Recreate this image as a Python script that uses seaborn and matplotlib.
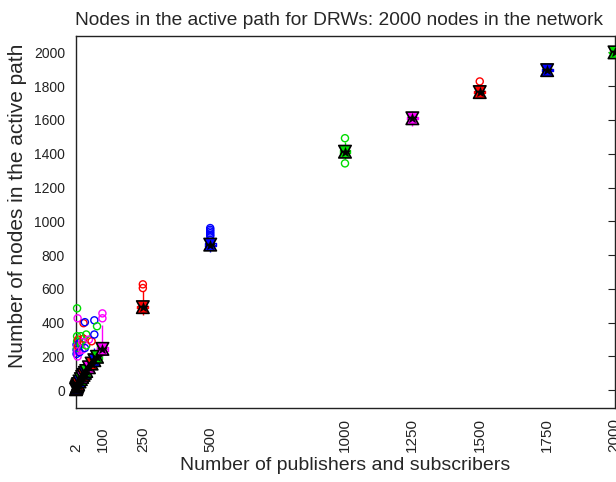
import matplotlib
matplotlib.use("Agg")
import matplotlib.pyplot as plt
from matplotlib.path import Path
import numpy as np
import pandas as pd
import seaborn as sns

# number of publishers + subscribers (box positions)
n_pubsub = [2, 4, 6, 8, 10, 15, 20, 25, 30, 35, 40, 50, 60, 70, 80, 100,
            250, 500, 1000, 1250, 1500, 1750, 2000]
# five-number summary per box
whisk_lo = [2, 6, 10, 14, 20, 30, 40, 50, 60, 70, 80, 100, 120, 140, 160, 200,
            444, 818, 1370, 1565, 1735, 1878, 1995]
q_low = [4, 11, 18, 25, 32, 46, 59, 72, 83, 95, 106, 127, 149, 169, 188, 234,
         484, 855, 1404, 1603, 1758, 1890, 1998]
median = [6, 14, 22, 30, 37, 52, 66, 79, 91, 103, 114, 136, 158, 178, 198, 245,
          492, 862, 1412, 1610, 1765, 1895, 2000]
q_high = [8, 17, 26, 35, 42, 58, 73, 86, 99, 111, 122, 145, 167, 187, 208, 256,
          500, 870, 1420, 1617, 1772, 1900, 2000]
whisk_hi = [12, 26, 40, 52, 62, 85, 105, 120, 140, 160, 175, 200, 225, 250, 280, 385,
            590, 900, 1470, 1652, 1800, 1910, 2000]
outliers = [[], [270, 240, 215], [485, 320, 290, 250], [426, 260, 230, 200],
            [300, 260], [280, 225], [320, 270], [285, 240], [397, 305], [403, 250],
            [330, 265], [300], [290], [414, 330], [379], [455, 426],
            [627, 605], [960, 950, 940, 930, 920, 912], [1492, 1343], [], [1828], [], []]

cycle = ['red', 'blue', '#00dd00', 'magenta']
grp = [str(i) for i in range(len(n_pubsub))]
palette = {g: cycle[i % 4] for i, g in enumerate(grp)}

# long tables
box_df = pd.DataFrame({
    'n': np.repeat(n_pubsub, 5),
    'nodes': np.column_stack([whisk_lo, q_low, median, q_high, whisk_hi]).ravel(),
    'grp': np.repeat(grp, 5),
})
out_n, out_v, out_g = [], [], []
for i, vals in enumerate(outliers):
    for v in vals:
        out_n.append(n_pubsub[i]); out_v.append(v); out_g.append(grp[i])
out_df = pd.DataFrame({'n': out_n, 'nodes': out_v, 'grp': out_g})
med_df = pd.DataFrame({'n': n_pubsub, 'nodes': median, 'grp': grp})

sns.set_style('white')
plt.rcParams['font.family'] = ['Liberation Sans', 'DejaVu Sans']

fig, ax = plt.subplots(figsize=(6.16, 4.82), dpi=100)
fig.subplots_adjust(left=76/616, right=614.5/616, bottom=1-408/482, top=1-36/482)

sns.boxplot(data=box_df, x='n', y='nodes', hue='grp', palette=palette,
            native_scale=True, dodge=False, width=20, whis=np.inf, fill=False,
            showcaps=False, linewidth=1, legend=False, ax=ax)

# outliers as open circles
sns.scatterplot(data=out_df, x='n', y='nodes', hue='grp', palette=palette,
                marker='o', s=26, linewidth=1, legend=False, ax=ax, zorder=3)
oc = ax.collections[-1]
oc.set_edgecolors(oc.get_facecolors())
oc.set_facecolors('none')
oc.set_clip_on(False)

# notch "hourglass" at the median
hourglass = Path([(-1, 1), (1, 1), (0.45, 0), (1, -1), (-1, -1), (-0.45, 0), (-1, 1)],
                 [Path.MOVETO] + [Path.LINETO] * 5 + [Path.CLOSEPOLY])
sns.scatterplot(data=med_df, x='n', y='nodes', hue='grp', palette=palette,
                marker=hourglass, s=80, edgecolor='black', linewidth=1.2,
                legend=False, ax=ax, zorder=4)
ax.collections[-1].set_clip_on(False)
sns.scatterplot(data=med_df, x='n', y='nodes', color='black', marker='*',
                s=50, edgecolor='black', linewidth=0.5, legend=False, ax=ax, zorder=5)
ax.collections[-1].set_clip_on(False)

ax.set_xlim(2, 2000)
ax.set_ylim(-105, 2097)
ax.set_xticks([2, 100, 250, 500, 1000, 1250, 1500, 1750, 2000])
ax.set_xticklabels(['2', '100', '250', '500', '1000', '1250', '1500', '1750', '2000'],
                   rotation=90, va='bottom', ha='center', fontsize=11)
ax.set_yticks(range(0, 2001, 200))
ax.tick_params(axis='x', length=0, pad=31.5, colors='#222222')
ax.tick_params(axis='y', direction='in', length=5, right=True, labelsize=10,
               pad=8, colors='#222222')
for sp in ax.spines.values():
    sp.set_visible(True)
    sp.set_color('#222222')
    sp.set_linewidth(1)

ax.set_title('Nodes in the active path for DRWs: 2000 nodes in the network',
             fontsize=13.8, pad=8, x=0.488)
ax.set_xlabel('Number of publishers and subscribers', fontsize=14, labelpad=4)
ax.set_ylabel('Number of nodes in the active path', fontsize=15)
ax.yaxis.set_label_coords(-0.091, 0.543)

fig.savefig('out.png', dpi=100)
